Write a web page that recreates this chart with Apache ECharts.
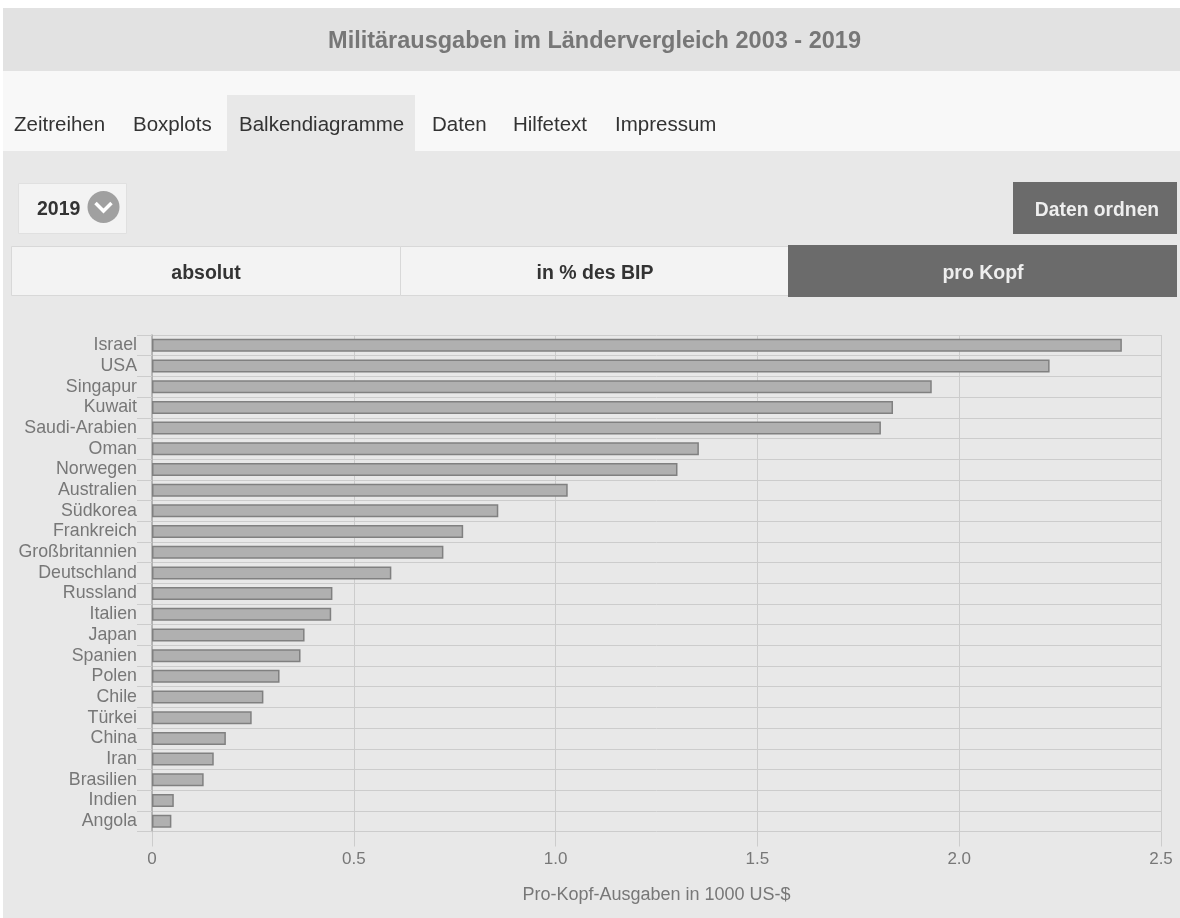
<!DOCTYPE html>
<html><head><meta charset="utf-8">
<style>html,body{margin:0;padding:0;background:#fff}#c{width:1180px;height:918px}</style>
<script src="https://cdn.jsdelivr.net/npm/echarts@6/dist/echarts.min.js"></script>
</head><body><div id="c"></div>
<script>
const categories = ['Israel','USA','Singapur','Kuwait','Saudi-Arabien','Oman','Norwegen','Australien','Südkorea','Frankreich','Großbritannien','Deutschland','Russland','Italien','Japan','Spanien','Polen','Chile','Türkei','China','Iran','Brasilien','Indien','Angola'];
const values = [2.403,2.224,1.932,1.836,1.806,1.355,1.302,1.03,0.858,0.771,0.722,0.593,0.447,0.444,0.378,0.368,0.316,0.276,0.247,0.183,0.153,0.128,0.054,0.048];
const xTickLabels = ['0','0.5','1.0','1.5','2.0','2.5'];
const titleText = 'Militärausgaben im Ländervergleich 2003 - 2019';
const axisTitle = 'Pro-Kopf-Ausgaben in 1000 US-$';

const FONT = '"Liberation Sans", Arial, sans-serif';
const rect = (x,y,w,h,fill,stroke) => ({type:'rect',z:-10,silent:true,shape:{x,y,width:w,height:h},style:{fill,stroke:stroke||null,lineWidth:stroke?1:0}});
const text = (x,y,t,size,fill,weight,align) => ({type:'text',z:-5,silent:true,x,y,style:{text:t,fill,font:(weight||'normal')+' '+size+'px '+FONT,textAlign:align||'left',textVerticalAlign:'middle'}});

const chrome = [
  rect(3,8,1177,910,'#e8e8e8'),
  rect(3,8,1177,63,'#e2e2e2'),
  rect(3,71,1177,80,'#f8f8f8'),
  rect(227,95,188,56,'#e8e8e8'),
  text(594.5,41.5,titleText,23.5,'#777','bold','center'),
  text(14,125,'Zeitreihen',20.5,'#333'),
  text(133,125,'Boxplots',20.5,'#333'),
  text(239,125,'Balkendiagramme',20.5,'#333'),
  text(432,125,'Daten',20.5,'#333'),
  text(513,125,'Hilfetext',20.5,'#333'),
  text(615,125,'Impressum',20.5,'#333'),
  rect(18.5,183.5,108,50,'#f3f3f3','#e0e0e0'),
  text(37,209.5,'2019',19.5,'#333','bold'),
  {type:'circle',z:-8,silent:true,shape:{cx:103.5,cy:207,r:16},style:{fill:'#a0a0a0'}},
  {type:'polyline',z:-7,silent:true,shape:{points:[[95.5,203],[103.5,211],[111.5,203]]},style:{stroke:'#fff',lineWidth:3.5,fill:null}},
  rect(1013,182,164,52,'#6b6b6b'),
  text(1097,210.5,'Daten ordnen',19.3,'#eee','bold','center'),
  rect(11.5,246.5,389,49,'#f3f3f3','#d8d8d8'),
  rect(400.5,246.5,388,49,'#f3f3f3','#d8d8d8'),
  rect(788,245,389,52,'#6b6b6b'),
  text(206,274,'absolut',19.5,'#333','bold','center'),
  text(595,274,'in % des BIP',19.5,'#333','bold','center'),
  text(983,274,'pro Kopf',19.5,'#eee','bold','center')
];

const chart = echarts.init(document.getElementById('c'),null,{renderer:'canvas'});
chart.setOption({
  animation:false,
  backgroundColor:'#fff',
  textStyle:{fontFamily:FONT},
  graphic:{elements:chrome},
  grid:{left:152,right:19,top:335,bottom:86.5,containLabel:false},
  xAxis:{type:'value',min:0,max:2.5,interval:0.5,position:'bottom',
    name:axisTitle,nameLocation:'middle',nameGap:55,
    nameTextStyle:{fontSize:18,color:'#777',fontFamily:FONT},
    axisLine:{show:false},
    axisTick:{show:true,length:15,lineStyle:{color:'#ccc',width:1}},
    axisLabel:{margin:19,fontSize:17,color:'#777',fontFamily:FONT,
      formatter:(v)=>xTickLabels[Math.round(v/0.5)],hideOverlap:false},
    splitLine:{show:true,lineStyle:{color:'#ccc',width:1}}},
  yAxis:{type:'category',inverse:true,data:categories,
    axisLine:{show:true,lineStyle:{color:'#aaa',width:1.5}},
    axisTick:{show:true,length:15,lineStyle:{color:'#ccc',width:1}},
    axisLabel:{margin:15,fontSize:17.8,color:'#777',fontFamily:FONT,interval:0,padding:[2,0,0,0]},
    splitLine:{show:true,interval:0,lineStyle:{color:'#ccc',width:1}}},
  series:[{type:'bar',data:values,barWidth:13,
    itemStyle:{color:'#b0b0b0',borderColor:'#808080',borderWidth:1.5}}]
});
</script></body></html>
